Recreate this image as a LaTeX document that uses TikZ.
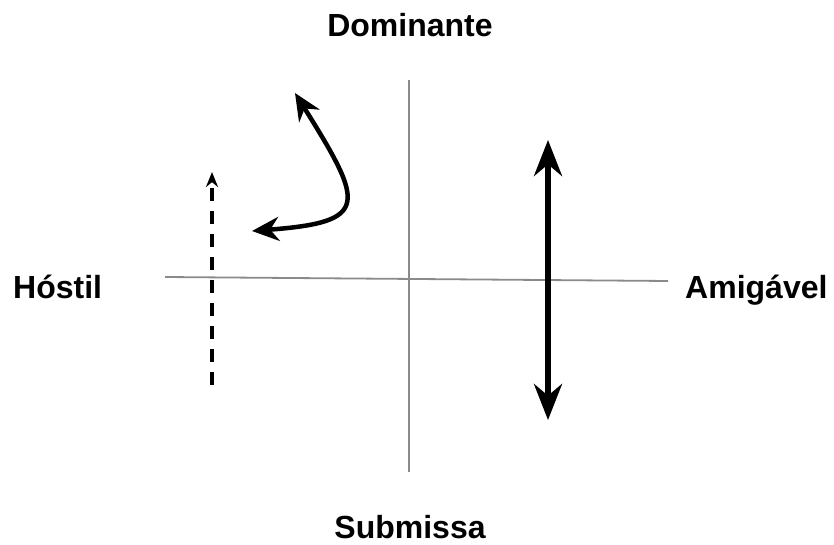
\documentclass[tikz,border=0pt]{standalone}
\usepackage{fontspec}
\setmainfont{Liberation Sans}
\usetikzlibrary{arrows.meta,positioning}
\definecolor{axisgray}{HTML}{8A8A8A}
\definecolor{inkblack}{HTML}{000000}
\tikzset{
  axisline/.style={draw=axisgray, line width=1.8pt},
  polelabel/.style={font=\fontsize{32}{36}\selectfont\bfseries, text=inkblack, inner sep=0pt},
  bigarr/.style={{Stealth[length=36pt, width=28pt]}-{Stealth[length=36pt, width=28pt]}, line width=5.5pt, color=inkblack},
  curvarr/.style={{Stealth[length=27pt, width=24pt]}-{Stealth[length=27pt, width=24pt]}, line width=4.5pt, color=inkblack},
  dasharr/.style={-{Stealth[length=15pt, width=12pt]}, line width=3.5pt, dash pattern=on 13pt off 10pt, color=inkblack}}

\begin{document}
\begin{tikzpicture}[x=1pt, y=-1pt]
  \useasboundingbox (0,0) rectangle (834,545);
  % pole labels
  \node[polelabel, anchor=base] (dom) at (410,37) {Dominante};
  \node[polelabel, anchor=base] (sub) at (410,538) {Submissa};
  \node[polelabel, anchor=base west] (host) at (13,298) {Hóstil};
  \node[polelabel, anchor=base west] (amig) at (685,298) {Amigável};
  % axes
  \coordinate (hleft) at (165,277);
  \coordinate (hright) at (668,281);
  \coordinate (vtop) at (409,80);
  \coordinate (vbot) at (409,472);
  \draw[axisline] (hleft) -- (hright);
  \draw[axisline] (vtop) -- (vbot);
  % movements
  \coordinate (dashlow) at (212,385);
  \coordinate (dashtip) at (212,172);
  \draw[dasharr] (dashlow) -- (dashtip);
  \coordinate (bigtop) at (548,140);
  \coordinate (bigbot) at (548,420);
  \draw[bigarr] (bigtop) -- (bigbot);
  \coordinate (curvleft) at (252,231);
  \coordinate (curvtop) at (295,93);
  \draw[curvarr] (curvleft) .. controls (370,222) and (365,205) .. (curvtop);
\end{tikzpicture}
\end{document}
